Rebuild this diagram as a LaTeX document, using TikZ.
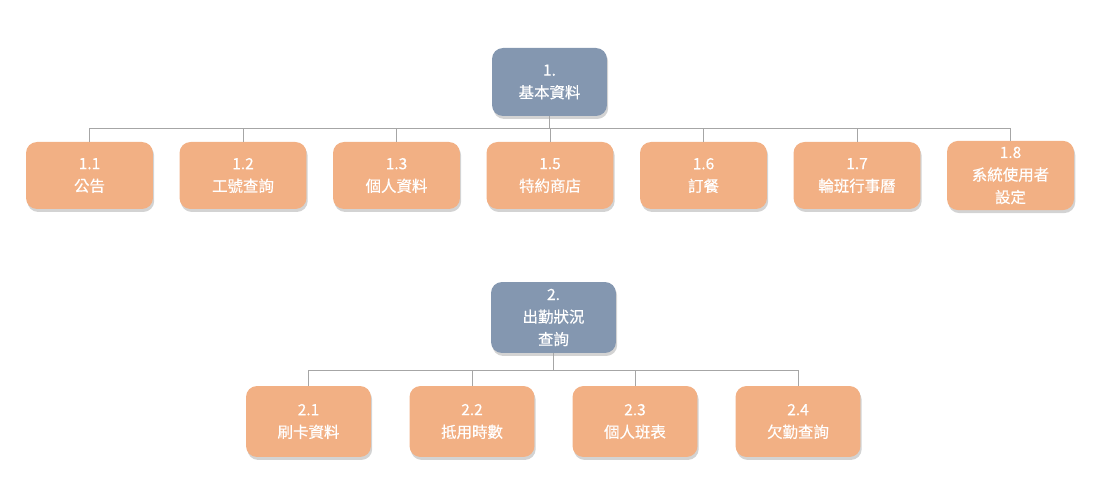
\documentclass[tikz,border=0pt]{standalone}
\usepackage{fontspec}
\usepackage{tikz}
\usetikzlibrary{calc,shadows}
\newfontfamily\cjk[FakeBold=0.5]{Noto Sans CJK TC}
\definecolor{slate}{HTML}{8497B0}
\definecolor{peach}{HTML}{F2B084}
\definecolor{wire}{HTML}{A6A6A6}
\tikzset{
  card/.style={rounded corners=2.2mm,draw=none,text=white,align=center,
    font=\cjk\fontsize{8.8}{12.8}\selectfont,
    drop shadow={opacity=0.35,shadow xshift=0.25mm,shadow yshift=-0.6mm}},
  link/.style={draw=wire,line width=0.5pt}
}
\newcommand{\cardnode}[6]{
  \node[card,fill=#3,minimum width=#4,minimum height=#5] (#1) at #2 {#6};
}

\begin{document}
\begin{tikzpicture}[x=0.02cm,y=-0.02cm]
  \useasboundingbox (0,0) rectangle (1102,502);
  % tree 1
  \cardnode{top1}{(549.5,82)}{slate}{2.3cm}{1.36cm}{1.\\基本資料}
  \cardnode{c11}{(89.5,175.5)}{peach}{2.54cm}{1.34cm}{1.1\\公告}
  \cardnode{c12}{(243,175.5)}{peach}{2.54cm}{1.34cm}{1.2\\工號查詢}
  \cardnode{c13}{(396.5,175.5)}{peach}{2.54cm}{1.34cm}{1.3\\個人資料}
  \cardnode{c15}{(550,175.5)}{peach}{2.54cm}{1.34cm}{1.5\\特約商店}
  \cardnode{c16}{(703.5,175.5)}{peach}{2.54cm}{1.34cm}{1.6\\訂餐}
  \cardnode{c17}{(857,175.5)}{peach}{2.54cm}{1.34cm}{1.7\\輪班行事曆}
  \cardnode{c18}{(1010.5,175.5)}{peach}{2.54cm}{1.34cm}{1.8\\系統使用者\\設定}
  \foreach \c in {c11,c12,c13,c15,c16,c17,c18}
    \draw[link] (top1.south) -- ++(0,12) -| (\c.north);
  % tree 2
  \cardnode{top2}{(553.5,317.5)}{slate}{2.5cm}{1.42cm}{2.\\出勤狀況\\查詢}
  \cardnode{c21}{(308.5,421.5)}{peach}{2.5cm}{1.42cm}{2.1\\刷卡資料}
  \cardnode{c22}{(472,421.5)}{peach}{2.5cm}{1.42cm}{2.2\\抵用時數}
  \cardnode{c23}{(635,421.5)}{peach}{2.5cm}{1.42cm}{2.3\\個人班表}
  \cardnode{c24}{(798,421.5)}{peach}{2.5cm}{1.42cm}{2.4\\欠勤查詢}
  \foreach \c in {c21,c22,c23,c24}
    \draw[link] (top2.south) -- ++(0,17) -| (\c.north);
\end{tikzpicture}
\end{document}
